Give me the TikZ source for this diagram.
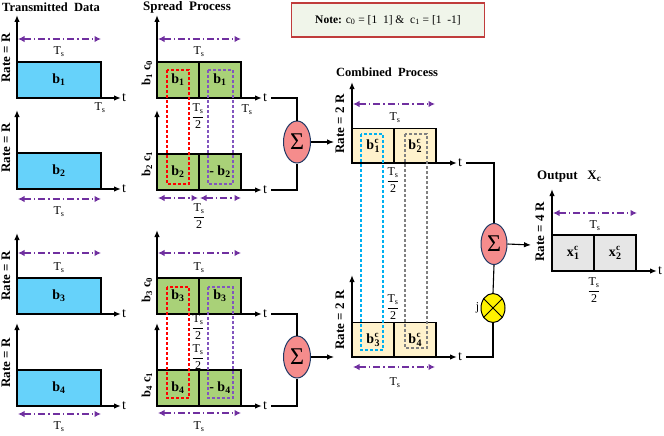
\documentclass[tikz,border=0pt]{standalone}
\usepackage{fontspec}
\usepackage{amsmath}
\setmainfont{Liberation Serif}
\usetikzlibrary{arrows.meta,shapes.geometric}
\definecolor{cyanf}{RGB}{102,210,250}
\definecolor{greenf}{RGB}{169,209,120}
\definecolor{beigef}{RGB}{255,242,204}
\definecolor{grayf}{RGB}{230,230,230}
\definecolor{purp}{RGB}{112,48,160}
\definecolor{purpd}{RGB}{130,85,190}
\definecolor{cyand}{RGB}{0,176,240}
\definecolor{grayd}{RGB}{128,128,128}
\definecolor{sigf}{RGB}{245,140,140}
\definecolor{sigb}{RGB}{31,56,100}
\definecolor{noteb}{RGB}{192,60,60}
\definecolor{notef}{RGB}{240,245,234}
\newcommand{\mkaxes}[5]{%
  \coordinate (#1o) at (#2,#3); \coordinate (#1y) at (#2,#4); \coordinate (#1x) at (#5,#3);
  \draw[ax] (#1o) -- (#1y); \draw[ax] (#1o) -- (#1x);
  \node[tl, anchor=west] (#1t) at ([xshift=1pt]#1x) {t};}
\newcommand{\tsx}{T\textsubscript{s}}
\newcommand{\tsfrac}{$\dfrac{\text{T}_{\text{s}}}{\text{2}}$}
\newcommand{\bc}[2]{#1\kern0.3pt\rlap{\raisebox{5.8pt}{\fontsize{9}{9}\selectfont c}}\raisebox{-3.2pt}{\fontsize{10}{10}\selectfont #2}}
\begin{document}
\begin{tikzpicture}[x=1pt,y=-1pt,
  ax/.style={line width=1.4pt,-{Latex[length=7pt,width=5.5pt]}},
  box/.style={draw,line width=1.3pt,inner sep=0pt,minimum height=36pt,font=\bfseries\fontsize{14}{14}\selectfont},
  full/.style={box,minimum width=84pt},
  half/.style={box,minimum width=42pt},
  tsa/.style={draw=purp,line width=1.3pt,dash pattern=on 7pt off 3pt on 1.5pt off 3pt,{Latex[length=6.5pt,width=6.5pt]}-{Latex[length=6.5pt,width=6.5pt]}},
  lab/.style={font=\fontsize{12}{12}\selectfont,inner sep=1pt},
  tl/.style={font=\fontsize{14}{14}\selectfont,inner sep=0pt},
  ttl/.style={font=\bfseries\fontsize{13}{13}\selectfont,inner sep=0pt},
  rl/.style={rotate=90,font=\bfseries\fontsize{13}{13}\selectfont,inner sep=0pt},
  frac/.style={font=\fontsize{12}{12}\selectfont,inner sep=0pt},
  dsh/.style={line width=1.1pt,dash pattern=on 3pt off 2pt},
  sig/.style={ellipse,draw=sigb,fill=sigf,line width=1pt,minimum width=27pt,minimum height=42pt,inner sep=0pt,font=\fontsize{24}{24}\selectfont},
  wire/.style={line width=1.1pt},
  warr/.style={line width=1.1pt,-{Latex[length=7pt,width=5.5pt]}}]
\useasboundingbox (0,0) rectangle (664,436);

% ---------- Transmitted data ----------
\node[ttl,anchor=west,font=\bfseries\fontsize{12.5}{12.5}\selectfont] (ttlT) at (2,7) {Transmitted\ \ Data};
\node[full,fill=cyanf] (T1) at (59,80) {b\textsubscript{1}};
\mkaxes{T1}{17}{98}{15}{121}
\coordinate (T1a) at (18,39); \coordinate (T1b) at (101,39);
\draw[tsa] (T1a) -- (T1b);
\node[lab] (T1s) at (59,52) {\tsx};
\node[lab] (T1e) at (100,108) {\tsx};
\node[rl] (T1r) at (6,58) {Rate\ = R};

\node[full,fill=cyanf] (T2) at (59,171) {b\textsubscript{2}};
\mkaxes{T2}{17}{189}{110}{121}
\coordinate (T2a) at (18,199); \coordinate (T2b) at (101,199);
\draw[tsa] (T2a) -- (T2b);
\node[lab] (T2s) at (59,212) {\tsx};
\node[rl] (T2r) at (6,148) {Rate\ = R};

\node[full,fill=cyanf] (T3) at (59,296) {b\textsubscript{3}};
\mkaxes{T3}{17}{314}{233}{121}
\coordinate (T3a) at (18,253); \coordinate (T3b) at (101,253);
\draw[tsa] (T3a) -- (T3b);
\node[lab] (T3s) at (59,268) {\tsx};
\node[rl] (T3r) at (6,276) {Rate\ = R};

\node[full,fill=cyanf] (T4) at (59,388) {b\textsubscript{4}};
\mkaxes{T4}{17}{406}{323}{121}
\coordinate (T4a) at (18,414); \coordinate (T4b) at (101,414);
\draw[tsa] (T4a) -- (T4b);
\node[lab] (T4s) at (59,427) {\tsx};
\node[rl] (T4r) at (6,363) {Rate\ = R};

% ---------- Spread process ----------
\node[ttl,anchor=west] (ttlS) at (143,7) {Spread\ \ Process};
\node[half,fill=greenf] (S1l) at (178,80) {b\textsubscript{1}};
\node[half,fill=greenf] (S1r) at (220,80) {b\textsubscript{1}};
\mkaxes{S1}{157}{98}{15}{262}
\coordinate (S1a) at (158,39); \coordinate (S1b) at (241,39);
\draw[tsa] (S1a) -- (S1b);
\node[lab] (S1s) at (199,52) {\tsx};
\node[lab] (S1e) at (247,110) {\tsx};
\node[rl,font=\bfseries\fontsize{12.5}{12.5}\selectfont] (S1c) at (147,73) {b\textsubscript{1} c\textsubscript{0}};

\node[half,fill=greenf] (S2l) at (178,172) {b\textsubscript{2}};
\node[half,fill=greenf] (S2r) at (220,172) {- b\textsubscript{2}};
\mkaxes{S2}{157}{190}{110}{262}
\coordinate (S2a) at (158,198); \coordinate (S2b) at (198,198);
\coordinate (S2c) at (200,198); \coordinate (S2d) at (241,198);
\draw[tsa] (S2a) -- (S2b);
\draw[tsa] (S2c) -- (S2d);
\node[frac] (S2f) at (199,216) {\tsfrac};
\node[rl,font=\bfseries\fontsize{12.5}{12.5}\selectfont] (S2cc) at (147,164) {b\textsubscript{2} c\textsubscript{1}};

\node[half,fill=greenf] (S3l) at (178,296) {b\textsubscript{3}};
\node[half,fill=greenf] (S3r) at (220,296) {b\textsubscript{3}};
\mkaxes{S3}{157}{314}{230}{262}
\coordinate (S3a) at (158,253); \coordinate (S3b) at (241,253);
\draw[tsa] (S3a) -- (S3b);
\node[lab] (S3s) at (199,268) {\tsx};
\node[rl,font=\bfseries\fontsize{12.5}{12.5}\selectfont] (S3c) at (147,290) {b\textsubscript{3} c\textsubscript{0}};

\node[half,fill=greenf] (S4l) at (178,388) {b\textsubscript{4}};
\node[half,fill=greenf] (S4r) at (220,388) {- b\textsubscript{4}};
\mkaxes{S4}{157}{406}{323}{262}
\coordinate (S4a) at (158,413); \coordinate (S4b) at (241,413);
\draw[tsa] (S4a) -- (S4b);
\node[lab] (S4s) at (199,427) {\tsx};
\node[rl,font=\bfseries\fontsize{12.5}{12.5}\selectfont] (S4c) at (147,385) {b\textsubscript{4} c\textsubscript{1}};

% dashed chip windows
\draw[dsh,red] (167,70) rectangle (189,184);
\draw[dsh,purpd] (208,70) rectangle (233,184);
\draw[dsh,red] (167,287) rectangle (189,398);
\draw[dsh,purpd] (208,287) rectangle (233,398);
\node[frac] (F1) at (198,116) {\tsfrac};
\node[frac] (F2) at (198,327) {\tsfrac};
\node[frac] (F3) at (198,357) {\tsfrac};

% ---------- Summers ----------
\node[sig] (sig1) at (297,142) {Σ};
\node[sig] (sig2) at (297,357) {Σ};
\draw[wire] (S1t.east) ++(4,0) coordinate (S1w) (S1w) -| (sig1.north);
\draw[wire] (S2t.east) ++(4,0) coordinate (S2w) (S2w) -| (sig1.south);
\draw[wire] (S3t.east) ++(4,0) coordinate (S3w) (S3w) -| (sig2.north);
\draw[wire] (S4t.east) ++(4,0) coordinate (S4w) (S4w) -| (sig2.south);
\coordinate (C1in) at (334,142);
\coordinate (C2in) at (334,357);
\draw[warr] (sig1.east) -- (C1in);
\draw[warr] (sig2.east) -- (C2in);

% ---------- Note ----------
\node[draw=noteb,fill=notef,line width=1.3pt,minimum width=193pt,minimum height=34pt,font=\fontsize{11.5}{11.5}\selectfont] (note) at (388,20)
  {\textbf{Note:} c\textsubscript{0} = [1\ \ 1] \& \ c\textsubscript{1} = [1\ \ -1]};

% ---------- Combined process ----------
\node[ttl,anchor=west,font=\bfseries\fontsize{12.5}{12.5}\selectfont] (ttlC) at (336,72) {Combined\ \ Process};
\node[half,fill=beigef,minimum height=35pt] (C1l) at (373,146) {\bc{b}{1}};
\node[half,fill=beigef,minimum height=35pt] (C1r) at (415,146) {\bc{b}{2}};
\mkaxes{C1}{352}{163}{82}{457}
\coordinate (C1a) at (353,104); \coordinate (C1b) at (435,104);
\draw[tsa] (C1a) -- (C1b);
\node[lab] (C1s) at (395,118) {\tsx};
\node[rl] (C1rt) at (340,124) {Rate\ =\ 2\ R};

\node[half,fill=beigef,minimum height=35pt] (C2l) at (373,340) {\bc{b}{3}};
\node[half,fill=beigef,minimum height=35pt] (C2r) at (415,340) {\bc{b}{4}};
\mkaxes{C2}{352}{357}{275}{457}
\coordinate (C2a) at (353,367); \coordinate (C2b) at (435,367);
\draw[tsa] (C2a) -- (C2b);
\node[lab] (C2s) at (395,383) {\tsx};
\node[rl] (C2rt) at (340,320) {Rate\ =\ 2\ R};

\draw[dsh,cyand] (361,134) rectangle (383,350);
\draw[dsh,grayd] (405,134) rectangle (427,348);
\node[frac] (F4) at (393,180) {\tsfrac};
\node[frac] (F5) at (393,307) {\tsfrac};

% ---------- final summer and j ----------
\node[sig,minimum width=26pt,minimum height=41pt] (sig3) at (494,244) {Σ};
\node[ellipse,draw,fill=yellow,line width=1pt,minimum width=24pt,minimum height=29pt,inner sep=0pt] (mult) at (493,308) {};
\draw[line width=1pt] (mult.45) -- (mult.225) (mult.135) -- (mult.315);
\node[lab,anchor=east] (jl) at (mult.west) {j};
\draw[wire] (C1t.east) ++(4,0) coordinate (C1w) (C1w) -| (sig3.north);
\draw[wire] (sig3.south) -- (mult.north);
\draw[wire] (C2t.east) ++(4,0) coordinate (C2w) (C2w) -| (mult.south);
\coordinate (Oin) at (531,245);
\draw[warr] (sig3.east) -- (Oin);

% ---------- Output ----------
\node[ttl,anchor=west] (ttlO) at (537,177) {Output\ \ \ X\textsubscript{c}};
\node[half,fill=grayf] (O1) at (573,253) {\bc{x}{1}};
\node[half,fill=grayf] (O2) at (615,253) {\bc{x}{2}};
\mkaxes{O}{552}{271}{189}{657}
\coordinate (Oa) at (553,213); \coordinate (Ob) at (637,213);
\draw[tsa] (Oa) -- (Ob);
\node[lab] (Os) at (595,226) {\tsx};
\node[frac] (F6) at (594,290) {\tsfrac};
\node[rl] (Ort) at (540,232) {Rate\ =\ 4\ R};
\end{tikzpicture}
\end{document}
